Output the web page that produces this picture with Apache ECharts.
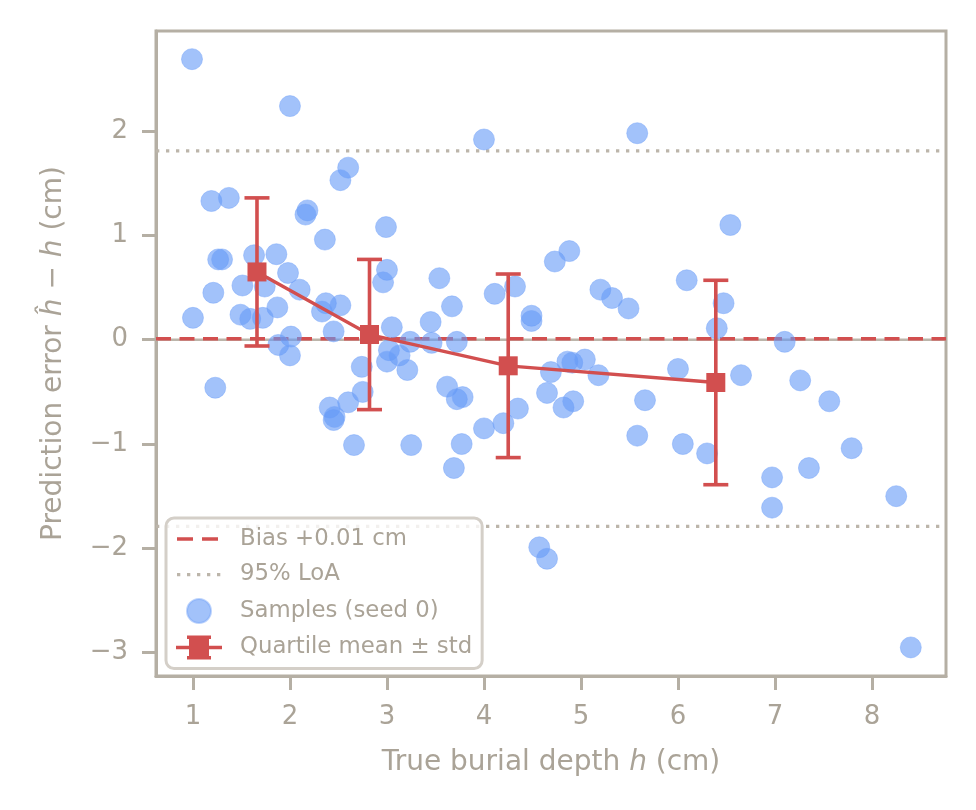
<!DOCTYPE html>
<html>
<head>
<meta charset="utf-8">
<script src="https://cdn.jsdelivr.net/npm/echarts@6/dist/echarts.min.js"></script>
<style>
html,body{margin:0;padding:0;background:#fff;}
#chart{width:976px;height:810px;}
</style>
</head>
<body>
<div id="chart"></div>
<script>
// ---- data ----
const sampleX = [0.99,2.00,2.60,2.52,1.19,1.37,2.18,2.16,2.99,2.36,
  1.26,1.30,1.63,1.86,1.98,1.51,1.74,2.10,1.21,2.37,
  2.52,2.33,1.87,1.00,1.49,1.59,1.72,2.45,2.01,1.88,
  2.00,3.00,2.96,3.54,3.05,3.45,3.24,3.02,3.13,3.00,
  3.21,2.74,2.75,2.60,2.41,2.45,2.46,2.66,3.25,1.23,
  4.00,5.58,3.67,3.46,3.72,4.11,4.32,4.49,4.49,4.73,
  4.88,5.20,5.32,5.49,6.09,3.62,3.72,3.78,4.35,4.20,
  4.00,3.77,3.69,4.69,4.86,4.91,5.04,5.18,4.65,4.82,
  4.92,5.66,5.58,6.00,6.05,4.57,4.65,6.54,6.47,6.40,
  7.10,6.65,7.26,7.56,6.30,7.79,6.97,6.97,7.35,8.25,8.40];
const sampleY = [2.69,2.24,1.65,1.53,1.33,1.36,1.24,1.20,1.08,0.96,
  0.77,0.77,0.81,0.82,0.64,0.52,0.51,0.48,0.45,0.35,
  0.33,0.27,0.31,0.21,0.24,0.20,0.21,0.08,0.03,-0.05,
  -0.15,0.67,0.55,0.59,0.12,0.17,-0.02,-0.10,-0.15,-0.21,
  -0.29,-0.26,-0.50,-0.60,-0.65,-0.77,-0.74,-1.01,-1.01,-0.46,
  1.92,1.98,0.32,-0.03,-0.02,0.44,0.51,0.23,0.18,0.75,
  0.85,0.48,0.40,0.30,0.57,-0.45,-0.57,-0.55,-0.66,-0.80,
  -0.85,-1.00,-1.23,-0.31,-0.21,-0.22,-0.19,-0.34,-0.51,-0.65,
  -0.59,-0.58,-0.92,-0.28,-1.00,-1.99,-2.10,1.10,0.35,0.11,
  -0.02,-0.34,-0.39,-0.59,-1.09,-1.04,-1.32,-1.61,-1.23,-1.50,-2.95];
const quartileX = [1.66, 2.82, 4.25, 6.39];
const quartileMean = [0.65, 0.05, -0.25, -0.41];
const quartileStd = [0.71, 0.72, 0.88, 0.98];
const bias = 0.01;
const loaUpper = 1.81;
const loaLower = -1.79;
const xLimits = [0.619, 8.763];
const yLimits = [-3.224, 2.960];
const xTicks = [1,2,3,4,5,6,7,8];
const yTicks = [-3,-2,-1,0,1,2];

// ---- styles ----
const AX = '#b5afa4';
const TXT = '#aaa397';
const RED = '#d24f4f';
const GREYLINE = '#bcb5aa';
const FONT = 'DejaVu Sans';

const chart = echarts.init(document.getElementById('chart'), null, {renderer: 'canvas'});

const samples = sampleX.map((x, i) => [x, sampleY[i]]);
const means = quartileX.map((x, i) => [x, quartileMean[i]]);
const errs = quartileX.map((x, i) => [x, quartileMean[i], quartileStd[i]]);
const hline = v => [[xLimits[0], v], [xLimits[1], v]];

// legend icons (46 x 24 box; tiny corner squares fix the bounding box)
const BOX = 'M0 0H0.01V0.01H0Z M45.99 23.99H46V24H45.99Z ';
const errIcon = 'path://' + BOX + 'M0 10.3H46V13.7H0Z M11 0H35V3.5H11Z M11 20.5H35V24H11Z M21.3 0H24.7V24H21.3Z M13 3H33V21H13Z';
const dashIcon = 'path://' + BOX + 'M1 10.2H17V13.8H1Z M26 10.2H42V13.8H26Z';
const dotIcon = 'path://' + BOX + 'M1 10.4H4.3V13.7H1Z M11 10.4H14.3V13.7H11Z M21 10.4H24.3V13.7H21Z M31 10.4H34.3V13.7H31Z M41 10.4H44.3V13.7H41Z';

const option = {
  animation: false,
  backgroundColor: '#fff',
  grid: {left: 156, top: 31, width: 790, height: 645, show: true,
         borderColor: AX, borderWidth: 3, backgroundColor: 'transparent'},
  legend: {
    orient: 'vertical', left: 166, top: 518,
    padding: [9, 10], itemWidth: 46, itemHeight: 24, itemGap: 11.5,
    backgroundColor: 'rgba(255,255,255,0.8)', borderColor: '#d4cfc8',
    borderWidth: 3, borderRadius: 8,
    textStyle: {fontFamily: FONT, fontSize: 22.8, color: TXT, padding: [0,0,0,13]},
    data: [
      {name: 'Bias +0.01 cm', icon: dashIcon, itemStyle: {color: RED}},
      {name: '95% LoA', icon: dotIcon, itemStyle: {color: GREYLINE}},
      {name: 'Samples (seed 0)'},
      {name: 'Quartile mean \u00b1 std', icon: errIcon, itemStyle: {color: RED}}
    ],
    selectedMode: false
  },
  xAxis: {
    type: 'value', min: xLimits[0], max: xLimits[1],
    axisLine: {show: true, onZero: false, lineStyle: {color: AX, width: 3}},
    axisTick: {show: true, length: 14, lineStyle: {color: AX, width: 3}, customValues: xTicks},
    axisLabel: {show: true, customValues: xTicks, margin: 28, color: TXT,
                fontFamily: FONT, fontSize: 26},
    splitLine: {show: false},
    name: '{n|True burial depth }{i|h}{n| (cm)}',
    nameLocation: 'middle', nameGap: 73,
    nameTextStyle: {rich: {
      n: {fontFamily: FONT, fontSize: 28, color: TXT},
      i: {fontFamily: FONT, fontSize: 28, color: TXT, fontStyle: 'italic'}
    }}
  },
  yAxis: {
    type: 'value', min: yLimits[0], max: yLimits[1],
    axisLine: {show: true, onZero: false, lineStyle: {color: AX, width: 3}},
    axisTick: {show: true, length: 14, lineStyle: {color: AX, width: 3}, customValues: yTicks},
    axisLabel: {show: true, customValues: yTicks, margin: 28, color: TXT,
                fontFamily: FONT, fontSize: 26,
                formatter: v => String(v).replace('-', '\u2212')},
    splitLine: {show: false},
    name: '{n|Prediction error }{i|\u0125}{n| \u2212 }{i|h}{n| (cm)}',
    nameLocation: 'middle', nameGap: 88,
    nameTextStyle: {rich: {
      n: {fontFamily: FONT, fontSize: 28, color: TXT},
      i: {fontFamily: FONT, fontSize: 28, color: TXT, fontStyle: 'italic'}
    }}
  },
  series: [
    {name: 'zero', type: 'line', data: hline(0), symbol: 'none', silent: true, z: 1,
     lineStyle: {color: GREYLINE, width: 2.5}},
    {name: 'Bias +0.01 cm', type: 'line', data: hline(bias), symbol: 'none', silent: true, z: 2,
     lineStyle: {color: RED, width: 3.5, type: [15, 8.5]}, itemStyle: {color: RED}},
    {name: '95% LoA', type: 'line', data: hline(loaUpper), symbol: 'none', silent: true, z: 2,
     lineStyle: {color: GREYLINE, width: 3.3, type: [3.3, 6.7]}, itemStyle: {color: GREYLINE}},
    {name: '95% LoA', type: 'line', data: hline(loaLower), symbol: 'none', silent: true, z: 2,
     lineStyle: {color: GREYLINE, width: 3.3, type: [3.3, 6.7]}, itemStyle: {color: GREYLINE}},
    {name: 'Samples (seed 0)', type: 'scatter', data: samples, symbol: 'circle', symbolSize: 21, z: 3,
     itemStyle: {color: 'rgba(100,153,247,0.75)', borderColor: 'rgba(120,165,248,0.6)', borderWidth: 1}},
    {name: 'Quartile mean \u00b1 std', type: 'custom', z: 4, data: errs,
     renderItem: function (params, api) {
       const x = api.value(0), m = api.value(1), s = api.value(2);
       const top = api.coord([x, m + s]);
       const bot = api.coord([x, m - s]);
       const cap = 12.5;
       const st = {stroke: RED, lineWidth: 3.6};
       return {type: 'group', children: [
         {type: 'line', shape: {x1: top[0], y1: top[1], x2: bot[0], y2: bot[1]}, style: st},
         {type: 'line', shape: {x1: top[0]-cap, y1: top[1], x2: top[0]+cap, y2: top[1]}, style: st},
         {type: 'line', shape: {x1: bot[0]-cap, y1: bot[1], x2: bot[0]+cap, y2: bot[1]}, style: st}
       ]};
     }},
    {name: 'Quartile mean \u00b1 std', type: 'line', data: means, z: 5,
     symbol: 'rect', symbolSize: 19,
     lineStyle: {color: RED, width: 3.3}, itemStyle: {color: RED}}
  ]
};
chart.setOption(option);
</script>
</body>
</html>
